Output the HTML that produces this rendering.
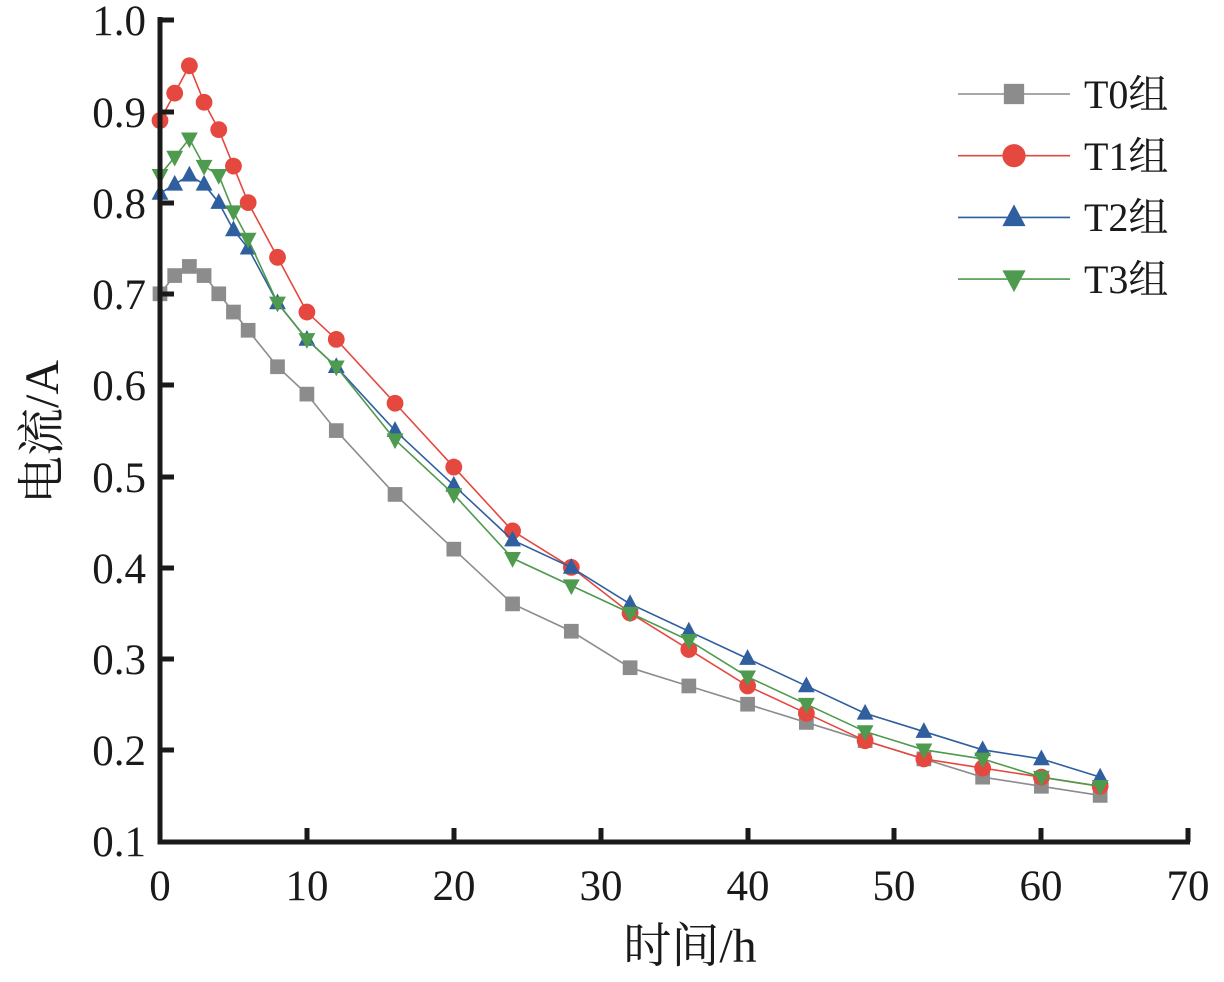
<!DOCTYPE html>
<html><head><meta charset="utf-8"><style>body{margin:0;background:#fff}</style></head>
<body>
<svg id="s" width="1224" height="977" xmlns="http://www.w3.org/2000/svg" font-family="Liberation Serif, Noto Serif CJK SC, serif">
<rect width="1224" height="977" fill="#fff"/>
<g id="data"></g>
<g stroke="#1a1a1a" stroke-width="5" fill="none">
<path d="M160,17 V842 H1190"/>
<path d="M160,20h14M160,112h14M160,203h14M160,294h14M160,385h14M160,477h14M160,568h14M160,659h14M160,750h14"/>
<path d="M307,842v-14M454,842v-14M601,842v-14M748,842v-14M894,842v-14M1041,842v-14M1188,842v-14"/>
</g>
<g font-size="43" fill="#1a1a1a" text-anchor="end">
<text x="146" y="35">1.0</text><text x="146" y="127">0.9</text><text x="146" y="218">0.8</text><text x="146" y="309">0.7</text><text x="146" y="400">0.6</text><text x="146" y="492">0.5</text><text x="146" y="583">0.4</text><text x="146" y="674">0.3</text><text x="146" y="765">0.2</text><text x="146" y="856">0.1</text>
</g>
<g font-size="43" fill="#1a1a1a" text-anchor="middle">
<text x="160" y="900">0</text><text x="307" y="900">10</text><text x="454" y="900">20</text><text x="601" y="900">30</text><text x="748" y="900">40</text><text x="894" y="900">50</text><text x="1041" y="900">60</text><text x="1188" y="900">70</text>
<text x="690" y="962" font-size="48">时间/h</text>
<text transform="translate(58,432) rotate(-90)" font-size="48">电流/A</text>
</g>
<g id="leg" font-size="40" fill="#1a1a1a">
<text x="1084" y="108">T0组</text><text x="1084" y="170">T1组</text><text x="1084" y="231">T2组</text><text x="1084" y="293">T3组</text>
</g>
</svg>
<script>
var X=[0,1,2,3,4,5,6,8,10,12,16,20,24,28,32,36,40,44,48,52,56,60,64];
var D=[
["#8c8c8c","sq",[.70,.72,.73,.72,.70,.68,.66,.62,.59,.55,.48,.42,.36,.33,.29,.27,.25,.23,.21,.19,.17,.16,.15]],
["#e5483f","ci",[.89,.92,.95,.91,.88,.84,.80,.74,.68,.65,.58,.51,.44,.40,.35,.31,.27,.24,.21,.19,.18,.17,.16]],
["#2f5f9e","up",[.81,.82,.83,.82,.80,.77,.75,.69,.65,.62,.55,.49,.43,.40,.36,.33,.30,.27,.24,.22,.20,.19,.17]],
["#4e9a4e","dn",[.83,.85,.87,.84,.83,.79,.76,.69,.65,.62,.54,.48,.41,.38,.35,.32,.28,.25,.22,.20,.19,.17,.16]]];
function px(x){return 160+x*14.69}function py(v){return 841-(v-0.1)*912}
function mk(t,x,y,c,s){s=s||1;
 if(t=="sq")return '<rect x="'+(x-7*s)+'" y="'+(y-7*s)+'" width="'+14*s+'" height="'+14*s+'" fill="'+c+'"/>';
 if(t=="ci")return '<circle cx="'+x+'" cy="'+y+'" r="'+8*s+'" fill="'+c+'"/>';
 if(t=="up")return '<polygon points="'+x+','+(y-9*s)+' '+(x-8*s)+','+(y+6*s)+' '+(x+8*s)+','+(y+6*s)+'" fill="'+c+'"/>';
 return '<polygon points="'+x+','+(y+9*s)+' '+(x-8*s)+','+(y-6*s)+' '+(x+8*s)+','+(y-6*s)+'" fill="'+c+'"/>';}
var h='';
D.forEach(function(d,i){var p=X.map(function(x,j){return px(x)+','+py(d[2][j])}).join(' ');
 h+='<polyline points="'+p+'" fill="none" stroke="'+d[0]+'" stroke-width="1.6"/>';
 X.forEach(function(x,j){h+=mk(d[1],px(x),py(d[2][j]),d[0],1.05)});
 var ly=94+i*61.7;h+='<line x1="958" x2="1070" y1="'+ly+'" y2="'+ly+'" stroke="'+d[0]+'" stroke-width="1.6"/>'+mk(d[1],1014,ly,d[0],1.45);
});
document.getElementById('data').innerHTML=h;
</script>
</body></html>
